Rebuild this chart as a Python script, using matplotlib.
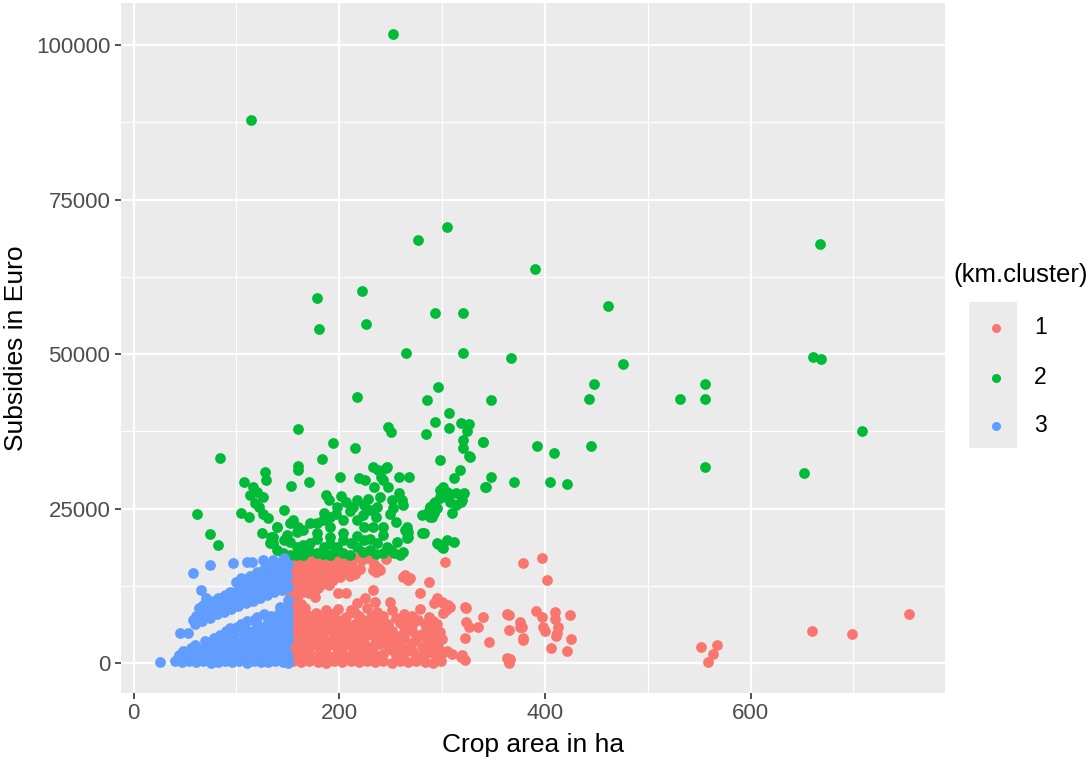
import matplotlib
matplotlib.use("Agg")
import matplotlib.pyplot as plt
from matplotlib.lines import Line2D
from matplotlib.patches import Rectangle
import numpy as np

plt.rcParams['font.family'] = ['Liberation Sans', 'DejaVu Sans']

# (crop area in ha, subsidies in Euro), one list per cluster
cluster1 = [
    # upper red blob
    (152,17300),(161,17100),(170,17400),(179,17200),(188,17350),(197,17150),(206,17400),(218,17250),(228,17100),
    (156,16700),(165,16600),(174,16800),(183,16650),(192,16750),(201,16600),(210,16800),(245,16800),
    (150,16000),(158,15900),(167,16150),(176,15850),(185,16100),(194,15950),(203,16200),(212,15900),(222,16700),(234,16100),
    (156,15300),(165,15400),(174,15200),(183,15450),(192,15250),(201,15400),(210,15300),(220,15200),
    (152,14700),(161,14900),(170,14600),(179,14800),(188,14650),(197,14900),(206,14700),(215,14500),
    (156,14000),(165,14100),(174,13900),(183,14050),(192,14150),(201,13900),(210,14100),
    (150,13400),(158,13600),(167,13300),(176,13500),(185,13350),(194,13550),
    (156,12700),(165,12800),(174,12650),(183,12900),(190,12600),
    (152,12100),(161,12300),(170,12000),(179,12200),
    (156,11400),(165,11600),(171,11300),
    (152,10800),(160,11000),(176,10700),(155,9800),(163,9600),
    # scattered middle
    (199,11320),(207,11320),(233,11860),(217,9700),(225,10510),(235,9970),(249,9970),(262,13980),(267,13470),
    (236,14820),(240,15090),(238,15350),(233,15080),(264,14280),(269,13740),(287,13200),(279,11320),(303,16430),
    (379,16170),(397,16980),(402,13470),(295,10510),(301,9700),(304,8620),(292,9700),(300,9970),(306,9430),
    (308,9160),(301,8080),(322,9160),(323,8890),(340,7540),(365,7810),(363,7980),(365,5390),(376,5930),
    (378,5820),(376,6730),(379,4040),(379,3770),(391,8460),(410,7220),(413,5930),(412,4850),(424,7780),
    (425,3880),(421,2050),(366,650),(363,810),(365,110),(346,3500),(335,5930),(323,6740),(322,4040),
    (326,5820),(319,1350),(322,540),(318,1080),(397,7440),(398,5930),(400,5280),(410,8240),(411,4470),(406,2480),
    # far right
    (552,2640),(567,2910),(563,1460),(559,210),(660,5220),(699,4690),(754,7920),
    # lower dense block
    (155,350),(163,150),(171,400),(179,250),(187,100),(195,380),(203,200),(211,450),(219,150),(227,320),
    (235,200),(243,420),(251,120),(259,300),(267,180),(275,400),(283,250),(291,120),(299,350),
    (159,900),(175,800),(191,1000),(207,850),(223,950),(239,800),(259,1000),(279,850),(295,950),
    (155,1500),(163,1300),(171,1650),(179,1400),(187,1550),(195,1250),(203,1600),(211,1350),(219,1500),(227,1700),
    (235,1300),(243,1550),(255,1400),(263,1650),(275,1250),(283,1500),(291,1700),(299,1350),(310,1550),
    (159,2100),(167,2000),(183,2200),(199,2050),(215,2150),(231,2000),(251,2200),(271,2050),(292,2150),(305,2000),
    (155,2700),(163,2850),(171,2550),(179,2750),(187,2600),(195,2900),(203,2650),(211,2800),(219,2500),
    (227,2750),(235,2900),(247,2600),(259,2800),(267,2550),(280,2700),(288,2900),(296,2600),
    (159,3300),(175,3200),(187,3400),(203,3250),(219,3350),(239,3200),(251,3400),(271,3300),(288,3250),
    (155,3900),(163,4100),(171,3800),(183,4000),(191,3850),(199,4150),(207,3900),(215,4050),(223,3800),
    (235,4100),(243,3950),(255,3800),(263,4050),(275,3900),(284,4150),(292,3850),(300,4000),
    (159,4500),(167,4600),(179,4450),(195,4550),(211,4400),(227,4600),(247,4500),(259,4450),(279,4600),(296,4500),
    (155,5100),(163,5300),(175,5000),(185,5250),(195,5100),(203,5350),(211,5050),(219,5200),(231,5000),
    (239,5300),(251,5150),(263,5050),(271,5300),(283,5100),(290,5250),(298,5000),
    (159,5700),(171,5800),(189,5650),(207,5750),(223,5850),(243,5700),(267,5800),(287,5650),
    (155,6300),(167,6450),(179,6200),(191,6400),(199,6250),(207,6500),(215,6300),(227,6450),(235,6200),
    (247,6350),(259,6500),(271,6250),(283,6400),(295,6300),
    (163,6900),(175,7000),(187,6850),(203,7050),(223,6950),(239,7050),(263,6900),(277,7050),(291,6850),
    (159,7500),(171,7650),(183,7400),(195,7600),(207,7450),(219,7700),(231,7500),(243,7650),(255,7400),
    (271,7600),(287,7500),
    (161,8100),(177,8200),(193,8000),(215,8150),(237,8250),(263,8050),
    (155,8700),(167,8900),(187,8600),(199,8800),(211,8650),(227,8900),(251,8700),(279,8800),
]

cluster2 = [
    (252,101730),(114,87870),(305,70510),(277,68410),(667,67860),(390,63800),(222,60260),(178,59080),
    (461,57840),(293,56660),(320,56660),(226,54880),(180,54070),(265,50190),(320,50190),(367,49330),
    (661,49590),(668,49260),(476,48460),(448,45220),(443,42800),(556,45220),(556,42800),(531,42800),
    (296,44690),(217,43120),(285,42580),(348,42580),(445,35190),(556,31700),(652,30830),(708,37570),
    (307,40530),(293,39080),(318,38810),(326,38650),(307,38110),(247,38270),(250,37460),(284,37090),
    (324,37630),(340,35840),(320,36110),(320,34870),(194,35580),(215,34870),(326,33530),(183,33090),
    (298,32880),(317,31260),(312,29970),(348,30180),(343,28560),(370,29370),(201,30180),(233,31700),
    (246,31700),(241,30180),(243,29650),(219,29920),(225,29650),(258,30080),(268,30180),(234,28470),
    (247,28470),(258,27490),(261,26410),(262,25600),(251,26410),(187,27220),(301,28560),(305,27750),
    (298,26940),(293,26130),(288,25330),(292,24360),(288,23710),(314,27490),(319,26410),(314,25600),
    (310,24260),(280,23980),(264,21560),(267,20480),(280,21030),(312,19570),(296,19300),(300,18860),
    (160,37850),(84,33150),(128,30990),(129,29650),(107,29370),(160,31910),(160,31260),(171,29370),
    (153,28730),(238,31260),(245,31540),(116,28560),(120,27750),(113,27220),(126,26940),(118,25880),
    (122,25330),(62,24150),(104,24360),(112,23710),(74,20910),(82,19130),
    (198,25320),(207,26130),(217,26410),(224,25600),(230,24790),(237,25320),(191,23710),(185,24260),
    (178,22640),(191,22090),(204,23170),(217,23170),(224,22090),(233,22090),(243,22090),(204,21020),
    (191,20470),(178,21020),(165,21560),(152,22640),(139,22090),(136,20470),(146,19940),(159,18860),
    (172,19400),(185,18860),(198,18860),(211,19400),(224,19940),(237,19400),(246,18860),(253,17790),
    (243,17790),(230,18320),(217,18860),(204,17790),(191,17510),(178,17790),(165,17510),(152,17510),
    (139,18320),(133,19400),(125,21020),(266,21020),(266,22090),(282,21020),(295,19400),(305,19940),
    (288,25320),(298,28030),(305,26940),(259,17510),(155,23180),(139,22100),(149,20750),(159,21280),
    (134,20480),(136,19410),(327,33410),(340,35830),(392,35190),(409,34050),(342,28450),(405,29370),
    (421,28990),(306,27490),(298,26680),(295,25060),(290,23710),(285,24260),(292,25870),(308,26130),
    (321,27490),(318,26130),(301,18590),(267,21290),(266,20210),
    (145,17900),(158,17600),(171,18100),(184,17700),(197,18200),(210,17600),(223,18000),(236,17700),
    (250,18300),(262,18000),
    (152,19600),(165,19200),(178,20100),(191,19300),(204,20000),(217,20600),(230,20100),(243,20700),(256,19700),
    (160,22000),(172,22700),(184,23200),(197,24100),(210,24600),(223,24000),(236,23600),(249,24100),(255,22800),
    (190,26400),(202,27000),(213,25300),(228,26500),(240,26900),(252,25200),(146,24800),(131,23500),(126,24100),
]

cluster3 = [
    # lower band
    (40,300),(47,150),(54,420),(61,200),(68,350),(75,100),(82,280),(89,450),(96,180),(103,320),
    (110,120),(117,400),(124,250),(131,150),(138,380),(145,220),(150,90),
    (43,800),(57,750),(71,850),(85,700),(99,900),(113,750),(127,850),(141,800),(150,650),
    (44,1350),(51,1100),(58,1500),(65,1250),(72,1600),(79,1200),(86,1450),(93,1150),(100,1550),
    (107,1300),(114,1100),(121,1500),(128,1250),(135,1400),(142,1150),(149,1450),
    (48,1950),(62,1850),(76,2000),(90,1900),(104,2050),(118,1850),(132,2000),(146,1900),
    (56,2500),(63,2300),(70,2650),(77,2400),(84,2750),(91,2350),(98,2600),(105,2450),(112,2700),
    (119,2300),(126,2550),(133,2800),(140,2400),(147,2650),
    (60,3000),(74,3100),(88,2950),(102,3100),(116,3000),(130,3150),(144,3050),
    (69,3550),(76,3400),(83,3700),(90,3450),(97,3650),(104,3500),(111,3800),(118,3400),(125,3650),
    (132,3550),(139,3750),(146,3450),(150,3800),
    (78,4100),(94,4200),(108,4050),(122,4250),(136,4150),(150,4300),
    (84,4600),(91,4800),(98,4500),(112,4700),(119,4900),(126,4550),(140,4750),(147,4600),
    (90,5200),(104,5300),(116,5150),(132,5300),(146,5250),
    (94,5700),(101,5900),(108,5600),(122,5800),(129,6000),(136,5700),(143,5900),(150,5650),
    (104,6300),(120,6400),(134,6250),(148,6400),
    (110,6800),(117,7000),(131,6900),(138,7100),(145,6850),(150,7200),
    (120,7500),(134,7600),(145,7450),
    (127,8000),(141,8100),(148,7900),(142,9100),(149,9000),(150,8400),(150,10200),
    # upper band
    (26,260),(45,4850),(53,4850),(58,7000),(60,6400),(61,7700),
    (67,6900),(66,8200),(68,9400),(74,7400),(75,8700),(73,10000),
    (81,7900),(80,9200),(82,10500),(88,8300),(87,9700),(89,11000),
    (95,8800),(96,10200),(94,11500),(102,9200),(101,10700),(103,12100),
    (109,9700),(110,11200),(108,12700),(116,10100),(115,11700),(117,13300),
    (123,10600),(122,12200),(124,13900),(130,11000),(131,12700),(129,14500),
    (137,11500),(136,13300),(138,15000),(144,11900),(143,13800),(145,15600),
    (150,12300),(149,14200),(150,16000),
    (63,7600),(70,8100),(77,8600),(84,9100),(91,9500),(98,10000),(105,10500),(112,10900),
    (119,11400),(126,11900),(133,12300),(140,12800),(147,13300),
    (64,9000),(71,9600),(78,10100),(85,10600),(92,11100),(99,11600),(106,12100),(113,12600),
    (120,13100),(127,13600),(134,14100),(141,14600),(148,15100),
    (140,16200),(133,15600),(127,15200),(120,14700),(113,14200),(106,13600),
    (58,14550),(74,15900),(97,16170),(110,16430),(115,16430),(126,16700),(136,16700),(142,15630),
    (147,14550),(104,13740),(100,13200),(66,11850),(70,10510),(73,9430),(146,17000),
]

cluster_names = ["1", "2", "3"]
cluster_colors = ["#F8766D", "#00BA38", "#619CFF"]

fig = plt.figure(figsize=(10.92, 7.65), dpi=100)
ax = fig.add_axes([120.7/1092, 72/765, 824.3/1092, 690/765])
ax.set_facecolor("#EBEBEB")

for pts, col in zip([cluster1, cluster2, cluster3], cluster_colors):
    a = np.array(pts, dtype=float)
    ax.scatter(a[:, 0], a[:, 1], s=60, color=col, linewidths=0, zorder=3)

ax.set_xlim(-12.5, 789)
ax.set_ylim(-4800, 106800)
ax.set_xticks([0, 200, 400, 600])
ax.set_xticks([100, 300, 500, 700], minor=True)
ax.set_yticks([0, 25000, 50000, 75000, 100000])
ax.set_yticks([12500, 37500, 62500, 87500], minor=True)
ax.grid(which="major", color="white", linewidth=1.6, zorder=0)
ax.grid(which="minor", color="white", linewidth=0.8, zorder=0)
ax.set_axisbelow(True)
for sp in ax.spines.values():
    sp.set_visible(False)
ax.tick_params(which="major", length=4.5, width=1.2, color="#333333",
               labelcolor="#4D4D4D", labelsize=16, pad=3)
ax.tick_params(which="minor", length=0)

ax.set_xlabel("Crop area in ha", fontsize=19, color="black")
ax.set_ylabel("Subsidies in Euro", fontsize=19, color="black")
ax.xaxis.set_label_coords(0.5, -0.058)
ax.yaxis.set_label_coords(-0.113, 0.5)

# legend drawn by hand, ggplot style
fig.text(953/1092, 1 - 275/765, "(km.cluster)", fontsize=18.5, ha="left", va="center")
fig.patches.append(Rectangle((969/1092, 1 - 448/765), 48/1092, 146/765,
                             transform=fig.transFigure, facecolor="#EBEBEB",
                             edgecolor="none"))
key_y = [328, 377.5, 426]
for name, col, yy in zip(cluster_names, cluster_colors, key_y):
    fig.add_artist(Line2D([995.7/1092], [1 - yy/765], marker="o", markersize=6.5,
                          color=col, markeredgewidth=0, linestyle="none",
                          transform=fig.transFigure))
    fig.text(1034/1092, 1 - yy/765, name, fontsize=16.5, ha="left", va="center")

fig.savefig("out.png", dpi=100)
